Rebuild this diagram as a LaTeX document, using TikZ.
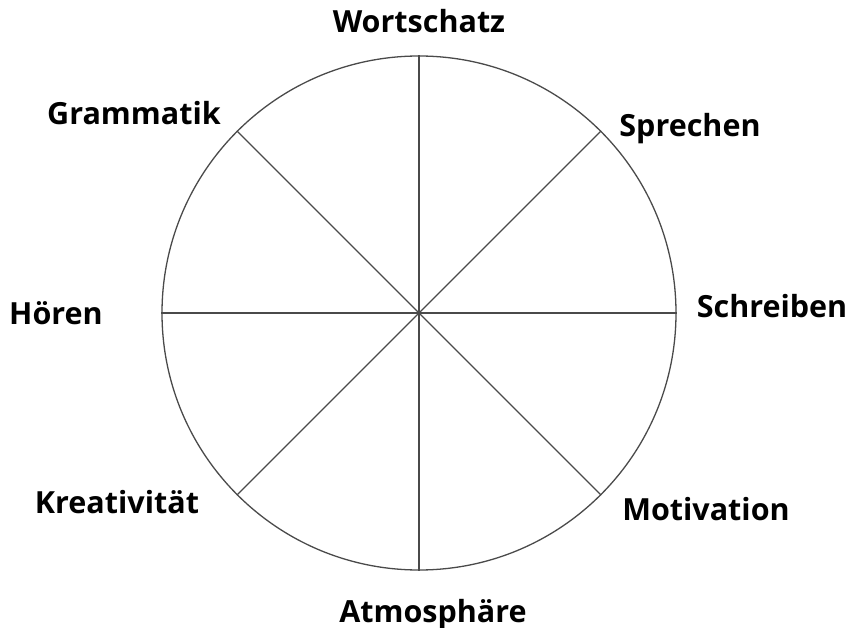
\documentclass[tikz,border=0pt]{standalone}
\usepackage{fontspec}
\setmainfont{Open Sans}
\definecolor{linecol}{HTML}{4A4A4A}
\begin{document}
\begin{tikzpicture}[x=1pt,y=-1pt,
  lbl/.style={font=\fontsize{30.5}{36}\selectfont\bfseries, text=black, inner sep=0pt, anchor=base},
  wheel/.style={circle, draw=linecol, line width=1.3pt, minimum size=514pt, inner sep=0pt},
  spoke/.style={draw=linecol, line width=1.3pt}]
\useasboundingbox (0,0) rectangle (854,628);
\node[wheel] (c) at (419,313) {};
\draw[spoke] (c.90) -- (c.270);
\draw[spoke] (c.0) -- (c.180);
\draw[spoke] (c.45) -- (c.225);
\draw[spoke] (c.135) -- (c.315);
\node[lbl] (w) at (419,33) {Wortschatz};
\node[lbl] (g) at (134,125) {Grammatik};
\node[lbl] (s) at (690,137) {Sprechen};
\node[lbl] (sc) at (772,317) {Schreiben};
\node[lbl] (h) at (56,325) {Hören};
\node[lbl] (k) at (117,513) {Kreativität};
\node[lbl] (mo) at (706,520) {Motivation};
\node[lbl] (a) at (433,622) {Atmosphäre};
\end{tikzpicture}
\end{document}
